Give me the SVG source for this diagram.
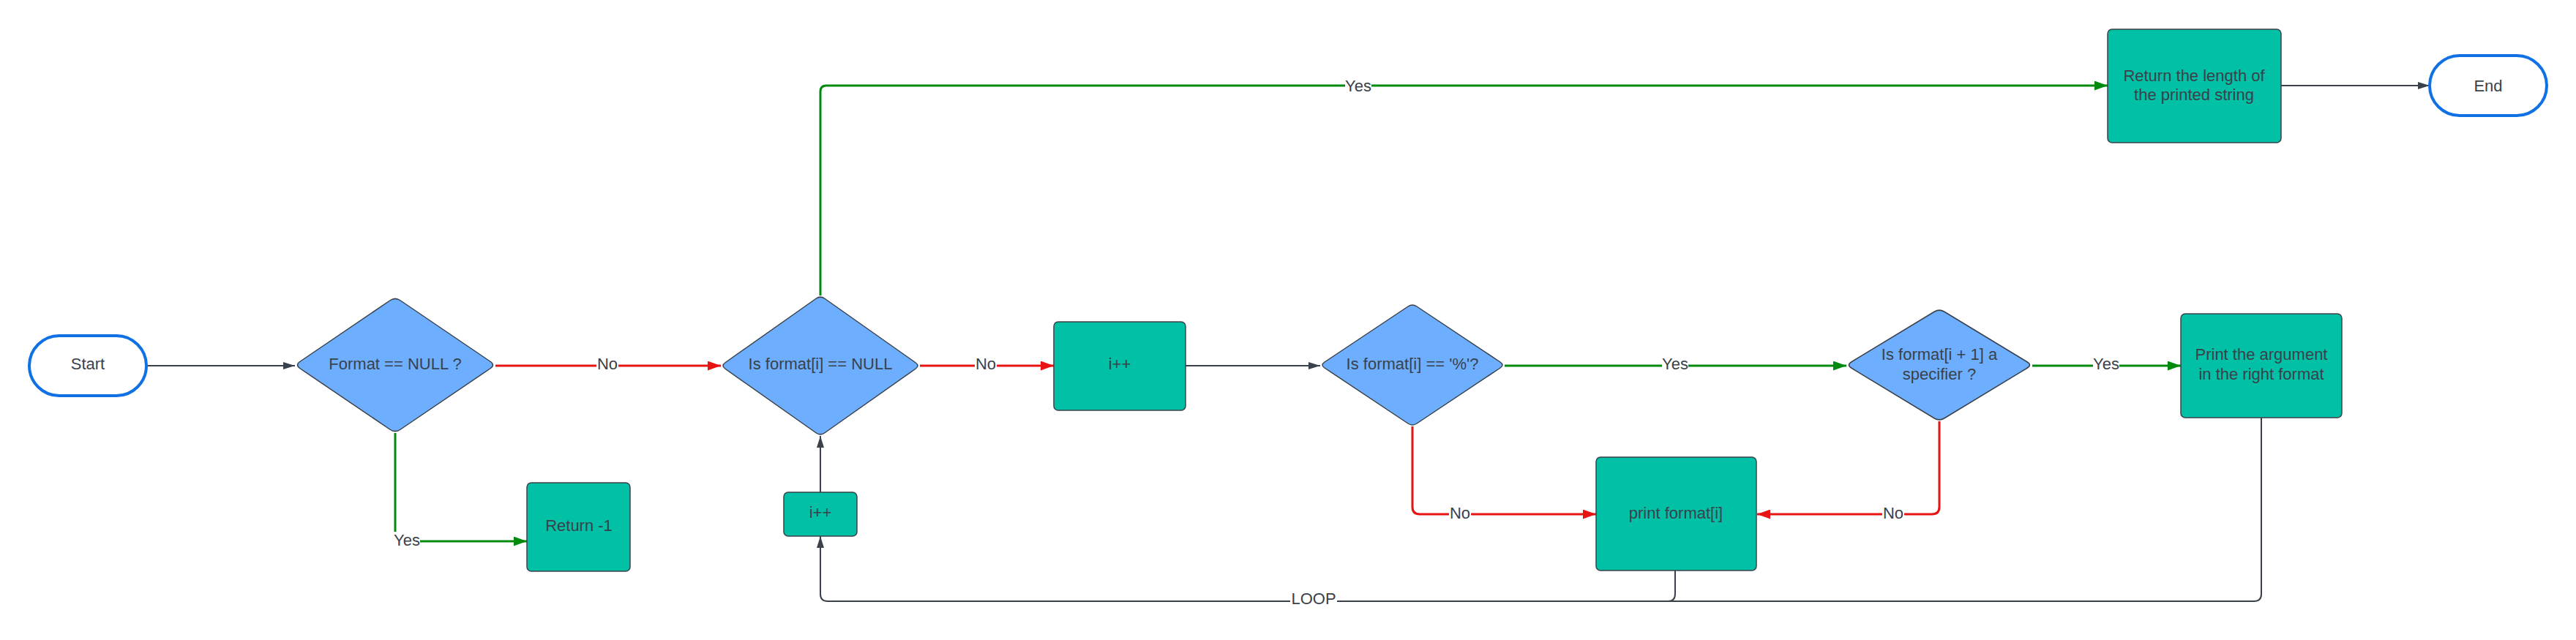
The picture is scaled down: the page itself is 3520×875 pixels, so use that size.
<svg xmlns="http://www.w3.org/2000/svg" width="3520" height="875" viewBox="0 0 3520 875">
<style>
text{font-family:"Liberation Sans",Arial,sans-serif;font-size:22px;fill:#3a414a;text-anchor:middle}
.box{fill:#00c0a6;stroke:#3a414a;stroke-width:1.5}
.dia{fill:#6daffe;stroke:#3a414a;stroke-width:1.5}
.pill{fill:#fff;stroke:#1071e5;stroke-width:4}
.g{fill:none;stroke:#3a414a;stroke-width:2}
.r{fill:none;stroke:#e81313;stroke-width:3}
.gr{fill:none;stroke:#008a0e;stroke-width:3}
.lb{fill:#fff}
</style>
<defs>
<marker id="ag" viewBox="0 0 16 10" markerUnits="userSpaceOnUse" markerWidth="16" markerHeight="10" refX="16" refY="5" orient="auto"><path d="M0 0L16 5L0 10Z" fill="#3a414a"/></marker>
<marker id="ar" viewBox="0 0 18 13" markerUnits="userSpaceOnUse" markerWidth="18" markerHeight="13" refX="18" refY="6.5" orient="auto"><path d="M0 0L18 6.5L0 13Z" fill="#e81313"/></marker>
<marker id="agr" viewBox="0 0 18 13" markerUnits="userSpaceOnUse" markerWidth="18" markerHeight="13" refX="18" refY="6.5" orient="auto"><path d="M0 0L18 6.5L0 13Z" fill="#008a0e"/></marker>
</defs>
<rect width="3520" height="875" fill="#fff"/>
<g id="connectors">
<path class="g" d="M200 500L403 500" marker-end="url(#ag)"/>
<path class="r" d="M677 500L985 500" marker-end="url(#ar)"/>
<path class="gr" d="M540 592L540 740L720 740" marker-end="url(#agr)"/>
<path class="r" d="M1257 500L1440 500" marker-end="url(#ar)"/>
<path class="gr" d="M1121 404L1121 125Q1121 117 1129 117L2880 117" marker-end="url(#agr)"/>
<path class="g" d="M1620 500L1804 500" marker-end="url(#ag)"/>
<path class="gr" d="M2056 500L2523 500" marker-end="url(#agr)"/>
<path class="gr" d="M2777 500L2980 500" marker-end="url(#agr)"/>
<path class="r" d="M1930 583L1930 693Q1930 703 1940 703L2181 703" marker-end="url(#ar)"/>
<path class="r" d="M2650 576L2650 693Q2650 703 2640 703L2401 703" marker-end="url(#ar)"/>
<path class="g" d="M3090 571L3090 812Q3090 822 3080 822L1131 822Q1121 822 1121 812L1121 733" marker-end="url(#ag)"/>
<path class="g" d="M2289 780L2289 812Q2289 822 2279 822"/>
<path class="g" d="M1121 673L1121 596" marker-end="url(#ag)"/>
<path class="g" d="M3117 117L3320 117" marker-end="url(#ag)"/>
<rect class="lb" x="815" y="486" width="30" height="26"/><text x="830" y="505">No</text>
<rect class="lb" x="538" y="727" width="36" height="26"/><text x="556" y="746">Yes</text>
<rect class="lb" x="1332" y="486" width="30" height="26"/><text x="1347" y="505">No</text>
<rect class="lb" x="1838" y="104" width="36" height="26"/><text x="1856" y="125">Yes</text>
<rect class="lb" x="2271" y="486" width="36" height="26"/><text x="2289" y="505">Yes</text>
<rect class="lb" x="2860" y="486" width="36" height="26"/><text x="2878" y="505">Yes</text>
<rect class="lb" x="1980" y="690" width="30" height="26"/><text x="1995" y="709">No</text>
<rect class="lb" x="2572" y="690" width="30" height="26"/><text x="2587" y="709">No</text>
<rect class="lb" x="1763" y="809" width="64" height="26"/><text x="1795" y="826">LOOP</text>
</g>
<g id="start"><rect class="pill" x="40" y="459" width="160" height="82" rx="41"/><text x="120" y="505">Start</text></g>
<g id="format-null"><path class="dia" d="M410 494.25L533 410.75Q540 406 547 410.75L670 494.25Q677 499 670 503.75L547 587.25Q540 592 533 587.25L410 503.75Q403 499 410 494.25Z"/><text x="540" y="505">Format == NULL ?</text></g>
<g id="return-minus1"><rect class="box" x="720" y="660" width="141" height="121" rx="6"/><text x="791" y="726">Return -1</text></g>
<g id="is-null"><path class="dia" d="M991 495.76L1115 408.24Q1121 404 1127 408.24L1251 495.76Q1257 500 1251 504.24L1127 591.76Q1121 596 1115 591.76L991 504.24Q985 500 991 495.76Z"/><text x="1121" y="505">Is format[i] == NULL</text></g>
<g id="inc1"><rect class="box" x="1440" y="440" width="180" height="121" rx="6"/><text x="1530" y="505">i++</text></g>
<g id="inc2"><rect class="box" x="1071" y="673" width="100" height="60" rx="6"/><text x="1121" y="708">i++</text></g>
<g id="is-percent"><path class="dia" d="M1810 495L1924 419Q1930 415 1936 419L2050 495Q2056 499 2050 503L1936 579Q1930 583 1924 579L1810 503Q1804 499 1810 495Z"/><text x="1930" y="505">Is format[i] == '%'?</text></g>
<g id="is-specifier"><path class="dia" d="M2530 494.76L2643 426.24Q2650 422 2657 426.24L2770 494.76Q2777 499 2770 503.24L2657 571.76Q2650 576 2643 571.76L2530 503.24Q2523 499 2530 494.76Z"/><text x="2650" y="492">Is format[i + 1] a</text><text x="2650" y="519">specifier ?</text></g>
<g id="print-char"><rect class="box" x="2181" y="625" width="219" height="155" rx="6"/><text x="2290" y="709">print format[i]</text></g>
<g id="print-arg"><rect class="box" x="2980" y="429" width="220" height="142" rx="6"/><text x="3090" y="492">Print the argument</text><text x="3090" y="519">in the right format</text></g>
<g id="return-length"><rect class="box" x="2880" y="40" width="237" height="155" rx="6"/><text x="2998" y="111">Return the length of</text><text x="2998" y="137">the printed string</text></g>
<g id="end"><rect class="pill" x="3320" y="76" width="160" height="82" rx="41"/><text x="3400" y="125">End</text></g>
</svg>
